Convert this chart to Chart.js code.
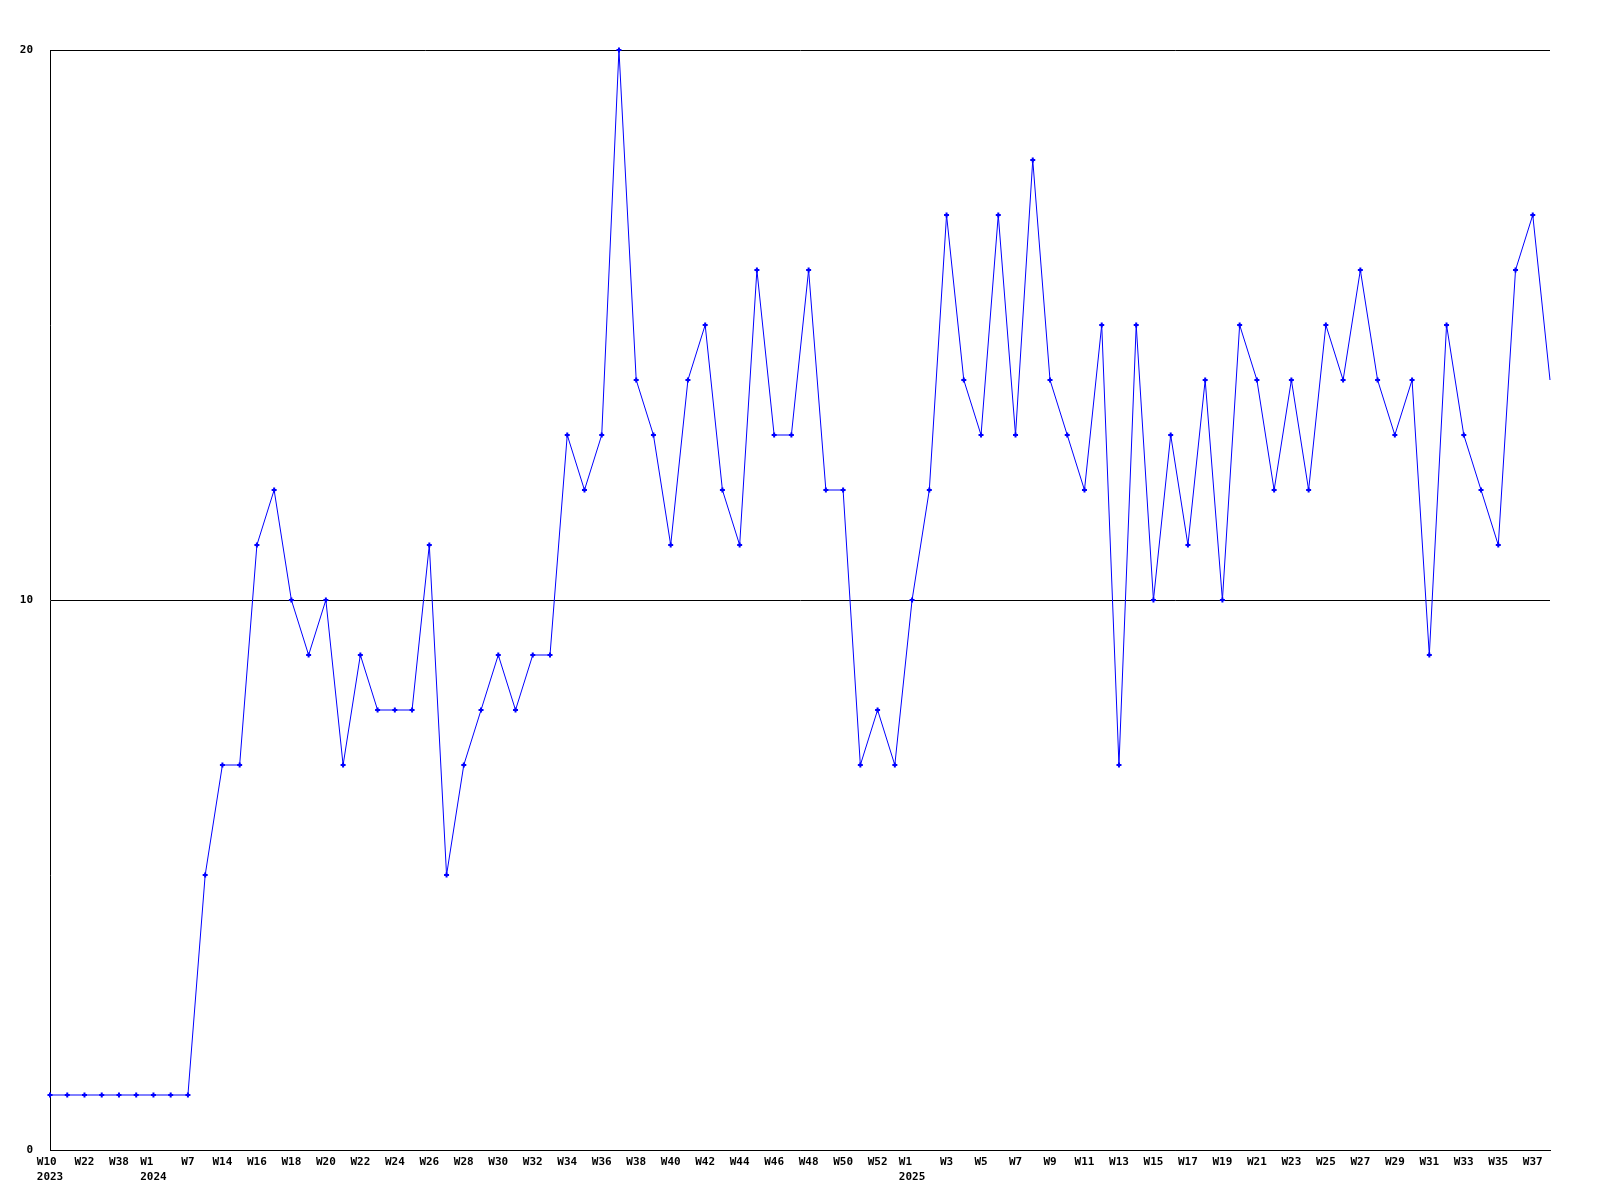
<!DOCTYPE html>
<html>
<head>
<meta charset="utf-8">
<script src="https://cdn.jsdelivr.net/npm/chart.js@4/dist/chart.umd.min.js"></script>
<style>
  html, body { margin: 0; padding: 0; background: #fff; }
  #wrap { width: 1600px; height: 1200px; }
</style>
</head>
<body>
<div id="wrap"><canvas id="weeklyChart" width="1600" height="1200"></canvas></div>
<script>
// 週ごとの件数

// 週ラベル (奇数番目は表示しない)
const weekLabels = [
  'W10', 'W16', 'W22', 'W30', 'W38', 'W45', 'W1', 'W4', 'W7', 'W13',
  'W14', 'W15', 'W16', 'W17', 'W18', 'W19', 'W20', 'W21', 'W22', 'W23',
  'W24', 'W25', 'W26', 'W27', 'W28', 'W29', 'W30', 'W31', 'W32', 'W33',
  'W34', 'W35', 'W36', 'W37', 'W38', 'W39', 'W40', 'W41', 'W42', 'W43',
  'W44', 'W45', 'W46', 'W47', 'W48', 'W49', 'W50', 'W51', 'W52', 'W53',
  'W1', 'W2', 'W3', 'W4', 'W5', 'W6', 'W7', 'W8', 'W9', 'W10',
  'W11', 'W12', 'W13', 'W14', 'W15', 'W16', 'W17', 'W18', 'W19', 'W20',
  'W21', 'W22', 'W23', 'W24', 'W25', 'W26', 'W27', 'W28', 'W29', 'W30',
  'W31', 'W32', 'W33', 'W34', 'W35', 'W36', 'W37', 'W38'
];

// 年の切り替わり位置
const yearLabels = {0: '2023', 6: '2024', 50: '2025'};

// 件数
const counts = [
  1, 1, 1, 1, 1, 1, 1, 1, 1, 5,
  7, 7, 11, 12, 10, 9, 10, 7, 9, 8,
  8, 8, 11, 5, 7, 8, 9, 8, 9, 9,
  13, 12, 13, 20, 14, 13, 11, 14, 15, 12,
  11, 16, 13, 13, 16, 12, 12, 7, 8, 7,
  10, 12, 17, 14, 13, 17, 13, 18, 14, 13,
  12, 15, 7, 15, 10, 13, 11, 14, 10, 15,
  14, 12, 14, 12, 15, 14, 16, 14, 13, 14,
  9, 15, 13, 12, 11, 16, 17, 14
];

// y軸の目盛り
const yTicks = [0, 10, 20];

const tickFont = {
  family: '"DejaVu Sans Mono", "Liberation Mono", monospace',
  size: 11,
  weight: 'bold',
  lineHeight: '15px'
};

const ctx = document.getElementById('weeklyChart').getContext('2d');
const chart = new Chart(ctx, {
  type: 'line',
  data: {
    labels: weekLabels,
    datasets: [{
      data: counts,
      borderColor: '#0000ff',
      backgroundColor: '#0000ff',
      borderWidth: 1,
      tension: 0,
      fill: false,
      pointStyle: 'cross',
      pointRadius: c => (c.dataIndex === counts.length - 1 ? 0 : 2.5),
      pointBorderWidth: 2,
      pointBorderColor: '#0000ff',
      clip: false
    }]
  },
  options: {
    responsive: false,
    animation: false,
    layout: { padding: { top: 50, right: 50, left: 0, bottom: 0 } },
    plugins: {
      legend: { display: false },
      tooltip: { enabled: false }
    },
    scales: {
      x: {
        offset: false,
        grid: { display: false, drawTicks: false },
        border: { display: true, color: '#000', width: 1 },
        ticks: {
          autoSkip: false,
          maxRotation: 0,
          minRotation: 0,
          padding: 5,
          color: '#000',
          font: tickFont,
          callback: function (value, index) {
            if (index % 2 !== 0) return '';
            const w = weekLabels[index];
            const y = yearLabels[index];
            if (!y) return w;
            // 週と年を左揃えにする
            const n = Math.max(w.length, y.length);
            return [w.padEnd(n, ' '), y.padEnd(n, ' ')];
          }
        },
        afterFit: scale => { scale.height = 50; }
      },
      y: {
        min: 0,
        max: 20,
        afterBuildTicks: scale => {
          scale.ticks = yTicks.map(v => ({ value: v }));
        },
        grid: { color: '#000', lineWidth: 1, drawTicks: false },
        border: { display: true, color: '#000', width: 1 },
        ticks: {
          padding: 17,
          color: '#000',
          font: tickFont
        },
        afterFit: scale => { scale.width = 50; }
      }
    }
  }
});
</script>
</body>
</html>
